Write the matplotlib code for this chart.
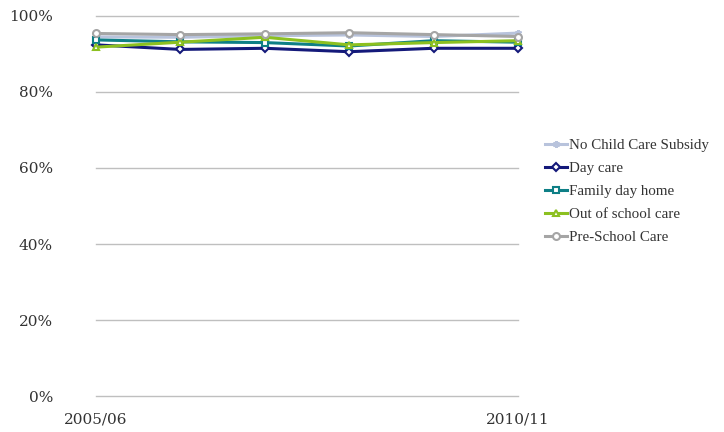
import matplotlib
matplotlib.use("Agg")
import matplotlib.pyplot as plt
from matplotlib.ticker import FuncFormatter

plt.rcParams["font.family"] = ["DejaVu Serif"]

years = ["2005/06", "2006/07", "2007/08", "2008/09", "2009/10", "2010/11"]
tick_labels = ["2005/06", "", "", "", "", "2010/11"]

no_subsidy = [94.5, 94.4, 94.8, 95.0, 94.6, 95.5]
day_care = [92.4, 91.2, 91.5, 90.6, 91.5, 91.5]
family_day_home = [93.7, 93.2, 93.0, 92.1, 93.5, 93.1]
out_of_school = [91.8, 93.1, 94.4, 92.4, 93.0, 93.5]
pre_school = [95.4, 95.1, 95.3, 95.6, 95.1, 94.6]

series = [
    ("No Child Care Subsidy", no_subsidy, "#B8C3DC", (6, 2, 0)),
    ("Day care", day_care, "#14197A", "D"),
    ("Family day home", family_day_home, "#0E7F86", "s"),
    ("Out of school care", out_of_school, "#8CC020", "^"),
    ("Pre-School Care", pre_school, "#A5A5A5", "o"),
]

fig = plt.figure(figsize=(7.24, 4.32), dpi=100)
ax = fig.add_axes([0.1326, 0.0833, 0.5829, 0.8797])

x = list(range(len(years)))
for label, vals, color, marker in series:
    filled = marker == (6, 2, 0)
    ax.plot(x, vals, color=color, lw=2.2, marker=marker, markersize=5 if marker != "D" else 4,
            markerfacecolor=color if filled else "white", markeredgecolor=color,
            markeredgewidth=1.5, label=label, clip_on=False, zorder=3)

ax.set_xlim(0, len(years) - 1)
ax.set_ylim(0, 100)
ax.set_yticks([0, 20, 40, 60, 80, 100])
ax.yaxis.set_major_formatter(FuncFormatter(lambda v, p: f"{v:.0f}%"))
ax.set_xticks(x)
ax.set_xticklabels(tick_labels)
ax.grid(axis="y", color="#BFBFBF", lw=1)
for gl in ax.get_ygridlines():
    gl.set_clip_on(False)
ax.set_axisbelow(True)
for s in ax.spines.values():
    s.set_visible(False)
ax.tick_params(axis="both", length=0, labelsize=11, colors="#333333")
ax.tick_params(axis="y", pad=31)
ax.tick_params(axis="x", pad=12)

ax.legend(loc="center left", bbox_to_anchor=(1.064, 0.539), frameon=False,
          prop={"family": "Liberation Serif", "size": 10.8},
          handlelength=1.47, handletextpad=0.13, labelspacing=0.63, borderpad=0,
          borderaxespad=0, labelcolor="#333333")

fig.savefig("out.png", dpi=100)
